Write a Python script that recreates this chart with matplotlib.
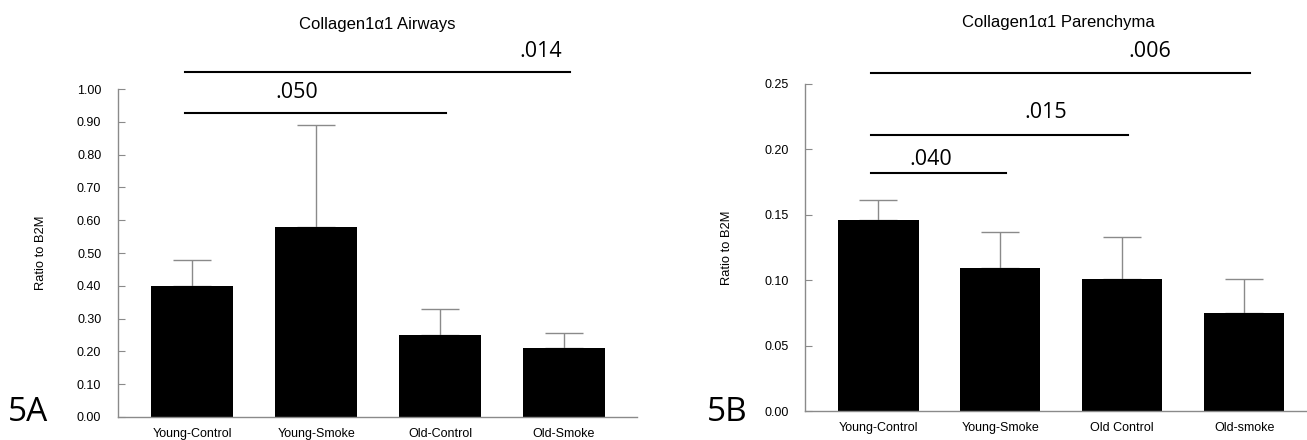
import matplotlib
matplotlib.use("Agg")
import matplotlib.pyplot as plt
import numpy as np

# --- data ---
groups_a = ['Young-Control', 'Young-Smoke', 'Old-Control', 'Old-Smoke']
mean_a = [0.40, 0.58, 0.25, 0.21]
err_a = [0.078, 0.31, 0.08, 0.047]

groups_b = ['Young-Control', 'Young-Smoke', 'Old Control', 'Old-smoke']
mean_b = [0.146, 0.109, 0.101, 0.075]
err_b = [0.015, 0.028, 0.032, 0.026]

# p-values: (from group, to group, label)
comps_a = [(0, 2, '.050'), (0, 3, '.014')]
comps_b = [(0, 1, '.040'), (0, 2, '.015'), (0, 3, '.006')]

axis_font = 'Liberation Sans'
p_font = 'Open Sans'
grey = '#8a8a8a'

fig = plt.figure(figsize=(13.07, 4.40), dpi=100)


def panel(rect, groups, means, errs, ylim, yticks, fmt, comps, bar_y, text_pos, xlim):
    ax = fig.add_axes(rect)
    x = np.arange(len(groups))
    ax.bar(x, means, width=0.66, color='black', zorder=2)
    ax.errorbar(x, means, yerr=[np.zeros(len(errs)), errs], fmt='none',
                ecolor=grey, elinewidth=1, capsize=14, capthick=1, zorder=1)
    ax.set_xlim(*xlim)
    ax.set_ylim(*ylim)
    ax.set_yticks(yticks)
    ax.set_yticklabels([fmt.format(v) for v in yticks], fontsize=9, family=axis_font)
    ax.set_xticks(x)
    ax.set_xticklabels(groups, fontsize=9, family=axis_font)
    ax.tick_params(axis='y', direction='in', length=5, color=grey, pad=12)
    ax.tick_params(axis='x', length=0, pad=8)
    for s in ['top', 'right']:
        ax.spines[s].set_visible(False)
    for s in ['left', 'bottom']:
        ax.spines[s].set_color(grey)
        ax.spines[s].set_linewidth(1)
    ax.set_ylabel('Ratio to B2M', fontsize=9.3, family=axis_font)
    # significance lines
    for (i, j, lab), yy, (tx, ty) in zip(comps, bar_y, text_pos):
        ax.plot([i - 0.06, j + 0.05], [yy, yy], color='black', lw=1.5,
                clip_on=False, zorder=3)
        ax.text(tx, ty, lab, fontsize=15.5, family=p_font, ha='center',
                va='center', clip_on=False)
    return ax


ax1 = panel([0.0903, 0.0523, 0.3971, 0.7454], groups_a, mean_a, err_a,
            (0, 1.0), np.arange(0, 1.01, 0.1), '{:.2f}', comps_a,
            [0.927, 1.052], [(0.84, 0.99), (2.81, 1.115)], (-0.60, 3.59))
ax1.yaxis.set_label_coords(-0.137, 0.5)

ax2 = panel([0.616, 0.0659, 0.3835, 0.7432], groups_b, mean_b, err_b,
            (0, 0.25), np.arange(0, 0.251, 0.05), '{:.2f}', comps_b,
            [0.182, 0.211, 0.2585], [(0.43, 0.192), (1.37, 0.228), (2.23, 0.275)],
            (-0.60, 3.51))
ax2.yaxis.set_label_coords(-0.144, 0.5)

fig.text(377 / 1307, 1 - 24 / 440, 'Collagen1\u03b11 Airways', fontsize=12,
         family=axis_font, ha='center', va='center')
fig.text(1058 / 1307, 1 - 22 / 440, 'Collagen1\u03b11 Parenchyma', fontsize=12,
         family=axis_font, ha='center', va='center')
fig.text(8 / 1307, 1 - 412 / 440, '5A', fontsize=24, family=p_font,
         ha='left', va='center')
fig.text(707 / 1307, 1 - 412 / 440, '5B', fontsize=24, family=p_font,
         ha='left', va='center')

fig.savefig('out.png', dpi=100)
